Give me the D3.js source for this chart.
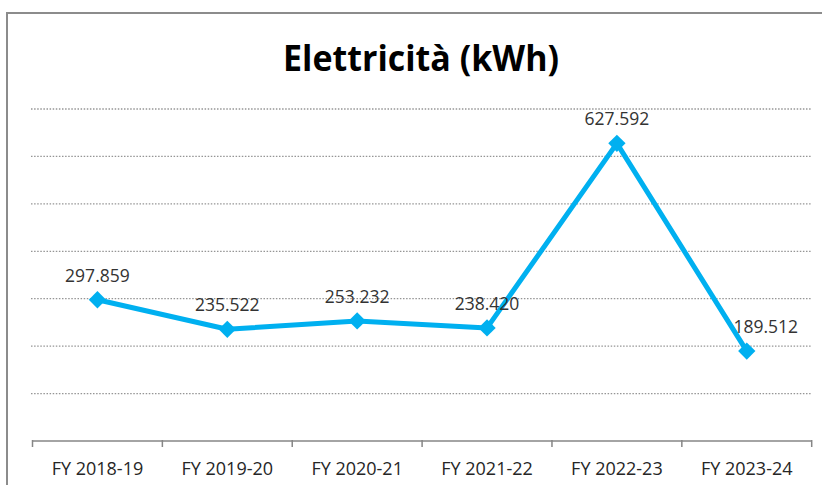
<!DOCTYPE html>
<html>
<head>
<meta charset="utf-8">
<script src="https://cdnjs.cloudflare.com/ajax/libs/d3/7.8.5/d3.min.js"></script>
<style>
  body { margin: 0; background: #fff; }
  svg { display: block; }
</style>
</head>
<body>
<div id="chart"></div>
<script>
// Data
const categories = ['FY 2018-19', 'FY 2019-20', 'FY 2020-21', 'FY 2021-22', 'FY 2022-23', 'FY 2023-24'];
const values = [297859, 235522, 253232, 238420, 627592, 189512];
const gridValues = [100000, 200000, 300000, 400000, 500000, 600000, 700000];
const title = 'Elettricità (kWh)';

const width = 822;
const height = 485;

const svg = d3.select('#chart').append('svg')
    .attr('width', width)
    .attr('height', height);

// Chart frame (extends past the right and bottom edges)
svg.append('rect')
    .attr('x', 7)
    .attr('y', 13)
    .attr('width', width)
    .attr('height', height)
    .attr('fill', 'none')
    .attr('stroke', '#8c8c8c')
    .attr('stroke-width', 2);

// Title
svg.append('text')
    .attr('x', 421)
    .attr('y', 71)
    .attr('text-anchor', 'middle')
    .style('font-family', "'Open Sans', sans-serif")
    .style('font-weight', 'bold')
    .style('font-size', '36px')
    .attr('textLength', 276)
    .attr('lengthAdjust', 'spacingAndGlyphs')
    .style('fill', '#000')
    .text(title);

// Scales
const x = d3.scaleBand()
    .domain(categories)
    .range([32.5, 811.7]);

const y = d3.scaleLinear()
    .domain([0, 700000])
    .range([441, 109]);

// Dotted gridlines
svg.append('g')
    .selectAll('line')
    .data(gridValues)
    .enter().append('line')
    .attr('x1', 31)
    .attr('x2', 812)
    .attr('y1', d => y(d))
    .attr('y2', d => y(d))
    .attr('stroke', '#959595')
    .attr('stroke-width', 1.3)
    .attr('stroke-dasharray', '1.5,1.6');

// Category axis
const xAxis = svg.append('g')
    .attr('transform', `translate(0,${y(0)})`);

xAxis.append('line')
    .attr('x1', x.range()[0])
    .attr('x2', x.range()[1])
    .attr('stroke', '#868686')
    .attr('stroke-width', 1.5);

const tickPos = categories.map(c => x(c)).concat([x.range()[1]]);
xAxis.selectAll('.tick')
    .data(tickPos)
    .enter().append('line')
    .attr('class', 'tick')
    .attr('x1', d => d)
    .attr('x2', d => d)
    .attr('y1', -1)
    .attr('y2', 6)
    .attr('stroke', '#868686')
    .attr('stroke-width', 1.5);

xAxis.selectAll('.label')
    .data(categories)
    .enter().append('text')
    .attr('class', 'label')
    .attr('x', d => x(d) + x.bandwidth() / 2)
    .attr('y', 34)
    .attr('text-anchor', 'middle')
    .style('font-family', "'Open Sans', sans-serif")
    .style('font-size', '18px')
    .style('fill', '#262626')
    .text(d => d);

// Line
const series = categories.map((c, i) => ({ cat: c, value: values[i] }));

const line = d3.line()
    .x(d => x(d.cat) + x.bandwidth() / 2)
    .y(d => y(d.value));

svg.append('path')
    .datum(series)
    .attr('d', line)
    .attr('fill', 'none')
    .attr('stroke', '#00B0F0')
    .attr('stroke-width', 5)
    .attr('stroke-linejoin', 'round');

// Diamond markers
svg.append('g')
    .selectAll('path')
    .data(series)
    .enter().append('path')
    .attr('d', d3.symbol(d3.symbolSquare, 150))
    .attr('transform', d => `translate(${x(d.cat) + x.bandwidth() / 2},${y(d.value)}) rotate(45)`)
    .attr('fill', '#00B0F0');

// Data labels (Italian thousands separator)
const fmt = d3.formatLocale({ decimal: ',', thousands: '.', grouping: [3], currency: ['€', ''] }).format(',d');

svg.append('g')
    .selectAll('text')
    .data(series)
    .enter().append('text')
    .attr('x', (d, i) => x(d.cat) + x.bandwidth() / 2 + (i === series.length - 1 ? 19 : 0))
    .attr('y', d => y(d.value) - 18)
    .attr('text-anchor', 'middle')
    .style('font-family', "'Open Sans', sans-serif")
    .style('font-size', '17.5px')
    .style('fill', '#333')
    .text(d => fmt(d.value));
</script>
</body>
</html>
